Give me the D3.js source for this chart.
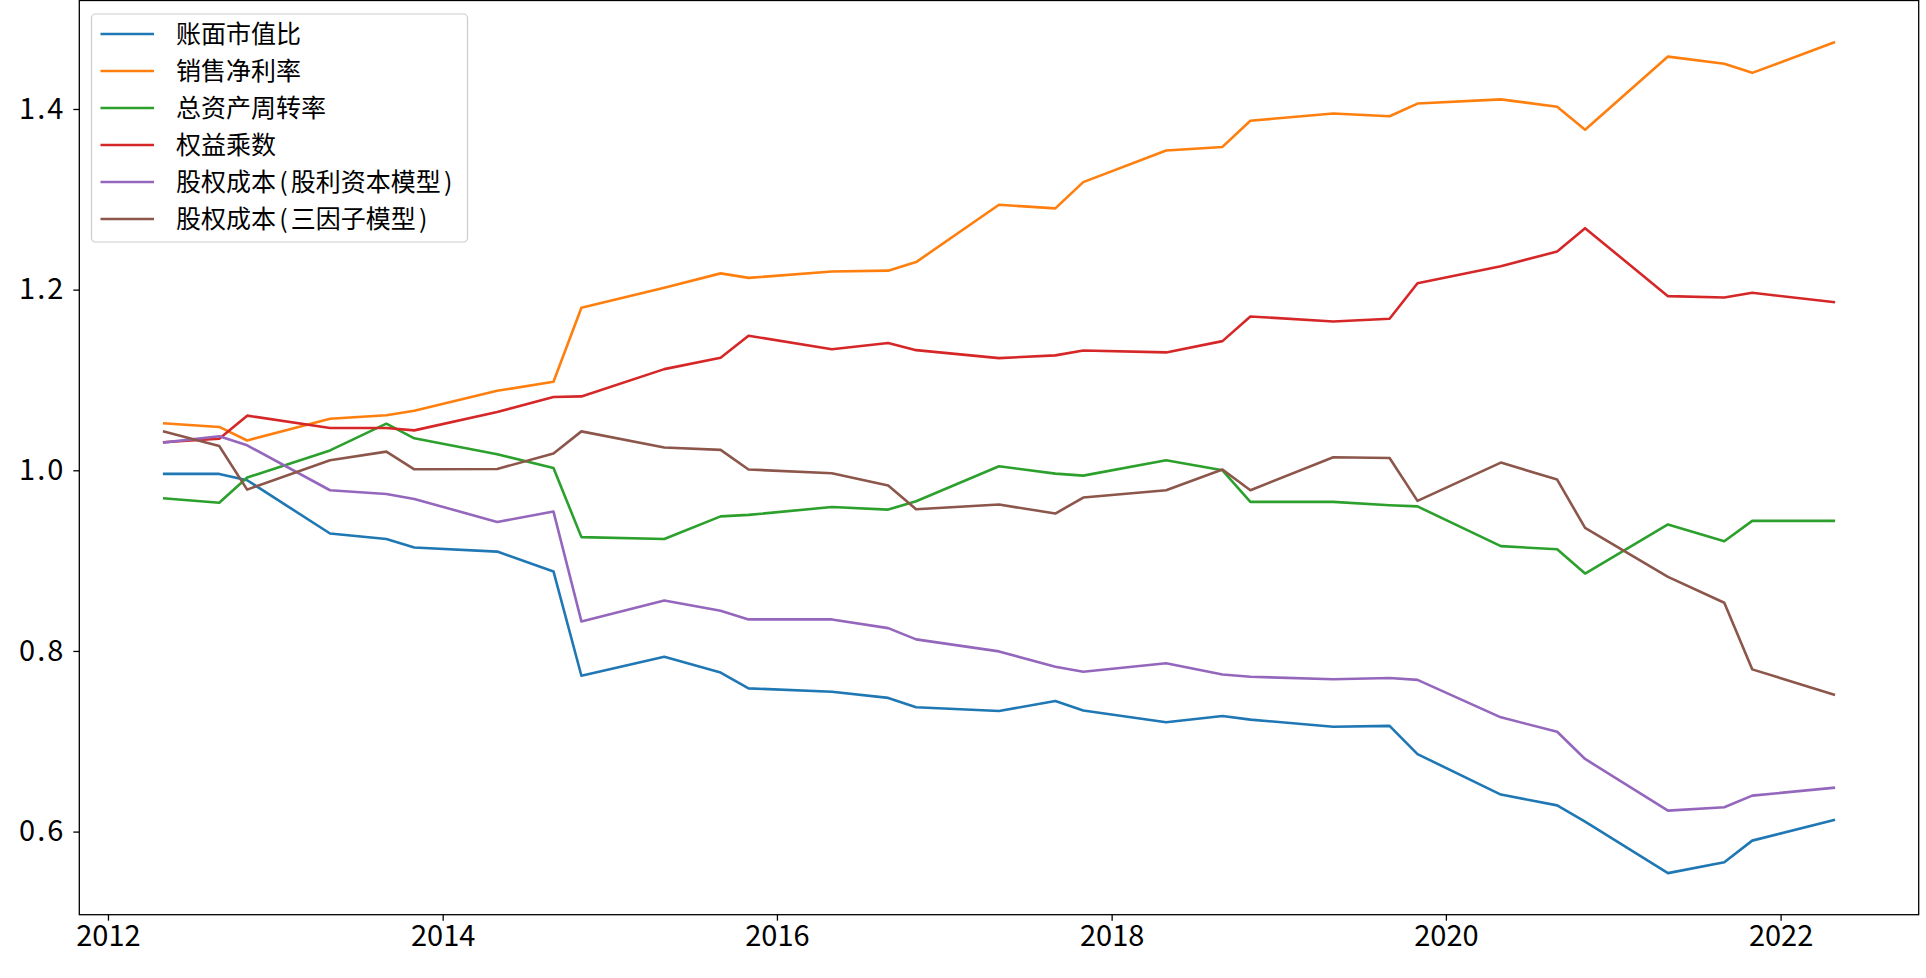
<!DOCTYPE html>
<html>
<head>
<meta charset="utf-8">
<script src="https://cdn.jsdelivr.net/npm/d3@7"></script>
<style>
  html, body { margin: 0; padding: 0; background: #fff; }
  svg { display: block; }
  text { font-family: "Noto Sans CJK SC", "Noto Sans", sans-serif; }
</style>
</head>
<body>
<svg id="chart" width="1926" height="978"></svg>
<script>
// ---- data ----
const dates = [
  "2012-04-30","2012-08-31","2012-10-31",
  "2013-04-30","2013-08-31","2013-10-31",
  "2014-04-30","2014-08-31","2014-10-31",
  "2015-04-30","2015-08-31","2015-10-31",
  "2016-04-30","2016-08-31","2016-10-31",
  "2017-04-30","2017-08-31","2017-10-31",
  "2018-04-30","2018-08-31","2018-10-31",
  "2019-04-30","2019-08-31","2019-10-31",
  "2020-04-30","2020-08-31","2020-10-31",
  "2021-04-30","2021-08-31","2021-10-31",
  "2022-04-30"
];
const seriesNames = ["账面市值比","销售净利率","总资产周转率","权益乘数","股权成本(股利资本模型)","股权成本(三因子模型)"];
const bookToMarket = [0.996,0.996,0.989,0.930,0.924,0.9145,0.910,0.888,0.7725,0.7935,0.776,0.7586,0.7548,0.748,0.7376,0.7335,0.7445,0.734,0.721,0.728,0.724,0.716,0.717,0.6858,0.641,0.629,0.611,0.554,0.566,0.590,0.613];
const netProfitMargin = [1.052,1.048,1.033,1.057,1.061,1.066,1.088,1.098,1.180,1.202,1.218,1.213,1.220,1.221,1.2305,1.294,1.290,1.319,1.354,1.358,1.387,1.395,1.392,1.406,1.4106,1.4025,1.377,1.458,1.450,1.440,1.4741];
const assetTurnover = [0.969,0.964,0.992,1.022,1.0516,1.0354,1.0177,1.0026,0.926,0.924,0.949,0.9506,0.9594,0.9565,0.9657,1.0044,0.9963,0.9941,1.0111,1.000,0.965,0.965,0.9613,0.960,0.916,0.9126,0.8857,0.940,0.9215,0.944,0.944];
const equityMultiplier = [1.031,1.035,1.0605,1.0468,1.0468,1.0442,1.0645,1.0811,1.0818,1.112,1.1245,1.149,1.134,1.141,1.133,1.1242,1.1272,1.1327,1.1305,1.143,1.1703,1.1648,1.1677,1.2071,1.2259,1.2422,1.268,1.1928,1.1913,1.1965,1.1861];
const costDividend = [1.0306,1.0376,1.0276,0.9779,0.9738,0.9683,0.9428,0.9543,0.8327,0.8559,0.8444,0.8349,0.8349,0.8253,0.8128,0.7995,0.7825,0.777,0.7863,0.774,0.7714,0.7687,0.770,0.768,0.7265,0.7106,0.6804,0.6232,0.627,0.6398,0.6487];
const costThreeFactor = [1.0431,1.0269,0.9786,1.0111,1.0207,1.0011,1.0015,1.0185,1.0431,1.0253,1.0226,1.0009,0.9968,0.9832,0.9569,0.9621,0.9521,0.9698,0.9779,1.0008,0.9779,1.0144,1.0136,0.9661,1.0085,0.9897,0.9362,0.882,0.8533,0.7796,0.7512];
const xTickYears = [2012,2014,2016,2018,2020,2022];
const yTicks = [0.6,0.8,1.0,1.2,1.4];
const colors = ["#1f77b4","#ff7f0e","#2ca02c","#d62728","#9467bd","#8c564b"];

// ---- build ----
const parse = d3.timeParse("%Y-%m-%d");
const dateObjs = dates.map(parse);
const allValues = [bookToMarket, netProfitMargin, assetTurnover, equityMultiplier, costDividend, costThreeFactor];
const series = seriesNames.map((name, i) => ({
  name, color: colors[i],
  points: dateObjs.map((d, j) => ({ date: d, value: allValues[i][j] }))
}));

const plot = { left: 79.3, right: 1918.7, top: 0.5, bottom: 914.7 };

const tExt = d3.extent(dateObjs);
const tSpan = tExt[1] - tExt[0];
const x = d3.scaleTime()
  .domain([new Date(+tExt[0] - 0.05 * tSpan), new Date(+tExt[1] + 0.05 * tSpan)])
  .range([plot.left, plot.right]);

const vMin = d3.min(allValues, a => d3.min(a));
const vMax = d3.max(allValues, a => d3.max(a));
const vSpan = vMax - vMin;
const y = d3.scaleLinear()
  .domain([vMin - 0.05 * vSpan, vMax + 0.05 * vSpan])
  .range([plot.bottom, plot.top]);

const svg = d3.select("#chart");

svg.append("defs").append("clipPath").attr("id", "clip")
  .append("rect")
  .attr("x", plot.left).attr("y", plot.top)
  .attr("width", plot.right - plot.left).attr("height", plot.bottom - plot.top);

const line = d3.line().x(d => x(d.date)).y(d => y(d.value));
svg.append("g").attr("clip-path", "url(#clip)")
  .selectAll("path").data(series).join("path")
  .attr("d", d => line(d.points))
  .attr("fill", "none")
  .attr("stroke", d => d.color)
  .attr("stroke-width", 2.6)
  .attr("stroke-linejoin", "round")
  .attr("stroke-linecap", "butt");

// axes
const xAxis = d3.axisBottom(x)
  .tickValues(xTickYears.map(yr => new Date(yr, 0, 1)))
  .tickFormat(d3.timeFormat("%Y"))
  .tickSize(6).tickPadding(5);
const gx = svg.append("g").attr("transform", `translate(0,${plot.bottom})`).call(xAxis);
gx.select(".domain").remove();
gx.selectAll(".tick line").attr("stroke", "#000").attr("stroke-width", 1.3);
gx.selectAll(".tick text").attr("fill", "#000").style("font-size", "29px");

const yAxis = d3.axisLeft(y)
  .tickValues(yTicks)
  .tickFormat(d3.format(".1f"))
  .tickSize(6).tickPadding(8);
const gy = svg.append("g").attr("transform", `translate(${plot.left},0)`).call(yAxis);
gy.select(".domain").remove();
gy.selectAll(".tick line").attr("stroke", "#000").attr("stroke-width", 1.3);
gy.selectAll(".tick text").attr("fill", "#000").style("font-size", "29px")
  .attr("letter-spacing", "2px");

// frame (spines)
svg.append("rect")
  .attr("x", plot.left).attr("y", plot.top)
  .attr("width", plot.right - plot.left).attr("height", plot.bottom - plot.top)
  .attr("fill", "none").attr("stroke", "#000").attr("stroke-width", 1.3);

// legend
const leg = { x: 91.5, y: 14, w: 376, h: 228, rowStart: 34, rowStep: 37 };
const lg = svg.append("g");
lg.append("rect")
  .attr("x", leg.x).attr("y", leg.y).attr("width", leg.w).attr("height", leg.h)
  .attr("rx", 4).attr("ry", 4)
  .attr("fill", "#fff").attr("fill-opacity", 0.8)
  .attr("stroke", "#cccccc").attr("stroke-width", 1.2);
const rows = lg.selectAll("g.row").data(series).join("g").attr("class", "row")
  .attr("transform", (d, i) => `translate(0,${leg.rowStart + i * leg.rowStep})`);
rows.append("line")
  .attr("x1", 100.5).attr("x2", 154).attr("y1", 0).attr("y2", 0)
  .attr("stroke", d => d.color).attr("stroke-width", 2.6);
const labels = rows.append("text")
  .attr("x", 176).attr("y", 0).attr("dy", "0.36em")
  .style("font-size", "25px").attr("fill", "#000");
// split on parentheses so they get half-width spacing like the original font
labels.each(function(d) {
  const t = d3.select(this);
  const parts = d.name.split(/([()])/).filter(s => s.length);
  let prevParen = false;
  parts.forEach(p => {
    const isParen = p === "(" || p === ")";
    const ts = t.append("tspan").text(p);
    if (isParen || prevParen) ts.attr("dx", 3.2);
    prevParen = isParen;
  });
});
</script>
</body>
</html>
